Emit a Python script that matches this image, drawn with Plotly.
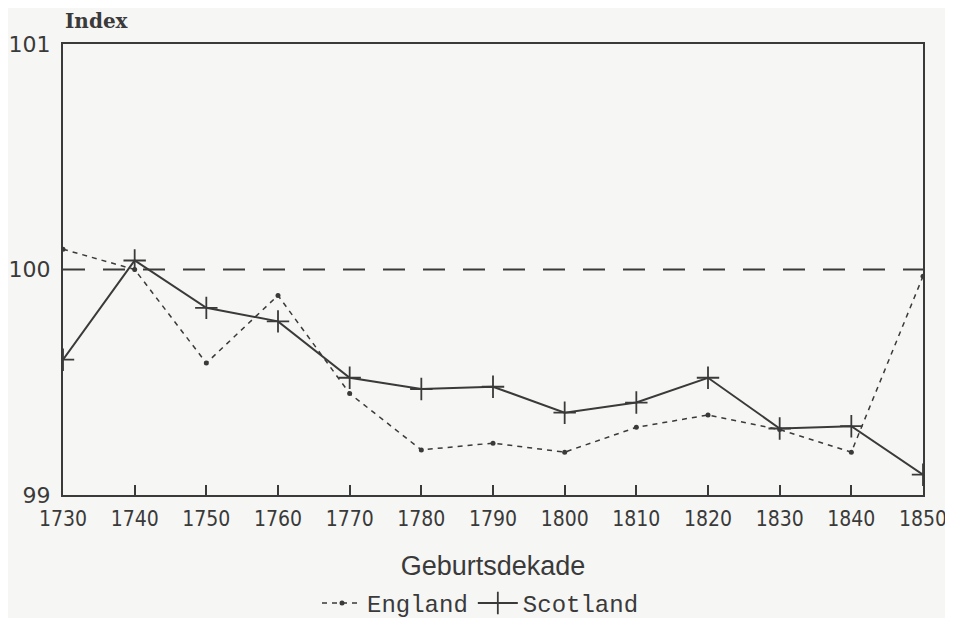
import plotly.graph_objects as go

decades = [1730, 1740, 1750, 1760, 1770, 1780, 1790, 1800, 1810, 1820, 1830, 1840, 1850]
england = [100.09, 100.0, 99.585, 99.885, 99.45, 99.20, 99.23, 99.19, 99.30, 99.355, 99.29, 99.19, 99.97]
scotland = [99.60, 100.04, 99.83, 99.77, 99.52, 99.47, 99.48, 99.365, 99.41, 99.52, 99.295, 99.305, 99.09]
ref_level = 100
y_ticks = [99, 100, 101]

ink = "#3a3a3a"
mono = "Liberation Mono, DejaVu Sans Mono, monospace"
bg = "#f6f6f4"

fig = go.Figure()
fig.add_trace(go.Scatter(
    x=[decades[0], decades[-1]], y=[ref_level, ref_level], mode="lines",
    line=dict(color=ink, width=2, dash="22px,18px"), showlegend=False, hoverinfo="skip"))
fig.add_trace(go.Scatter(
    x=decades, y=england, mode="lines+markers", name="England",
    line=dict(color=ink, width=1.5, dash="5px,5px"),
    marker=dict(symbol="circle", size=5, color=ink)))
fig.add_trace(go.Scatter(
    x=decades, y=scotland, mode="lines+markers", name="Scotland",
    line=dict(color=ink, width=2),
    marker=dict(symbol="cross-thin", size=16, line=dict(color=ink, width=1.8))))

fig.update_layout(
    width=945, height=610,
    margin=dict(l=55, r=30, t=36, b=123),
    paper_bgcolor=bg, plot_bgcolor=bg,
    font=dict(family=mono, color=ink, size=18),
    legend=dict(orientation="h", x=0.5, xanchor="center", xref="container",
                y=0.024, yanchor="middle", yref="container",
                font=dict(family=mono, size=24, color=ink), bgcolor="rgba(0,0,0,0)",
                itemwidth=40, tracegroupgap=0),
    annotations=[dict(text="<b>Index</b>", x=0, xref="paper", y=1, yref="paper",
                      xanchor="left", yanchor="middle", yshift=23, showarrow=False,
                      font=dict(family="DejaVu Serif, Liberation Serif, serif", size=20, color=ink))],
)
fig.update_xaxes(
    range=[1730, 1850], tickvals=decades, ticktext=[str(d) for d in decades],
    ticks="inside", ticklen=10, tickwidth=1.5, tickcolor=ink, automargin=False,
    ticklabelstandoff=4,
    showline=True, linecolor=ink, linewidth=2, mirror=True, showgrid=False, zeroline=False,
    tickfont=dict(family="DejaVu Sans Condensed, sans-serif", size=21, color=ink),
    title=dict(text="Geburtsdekade", font=dict(family="Liberation Sans, Arial, sans-serif", size=27, color=ink), standoff=31),
)
fig.update_yaxes(
    range=[99, 101], tickvals=y_ticks, ticktext=[str(v) for v in y_ticks],
    ticks="", showline=True, linecolor=ink, linewidth=2, mirror=True, showgrid=False, zeroline=False,
    automargin=False, ticklabelstandoff=6,
    tickfont=dict(family="DejaVu Sans, sans-serif", size=22, color=ink),
)

fig.write_html("out.html")
